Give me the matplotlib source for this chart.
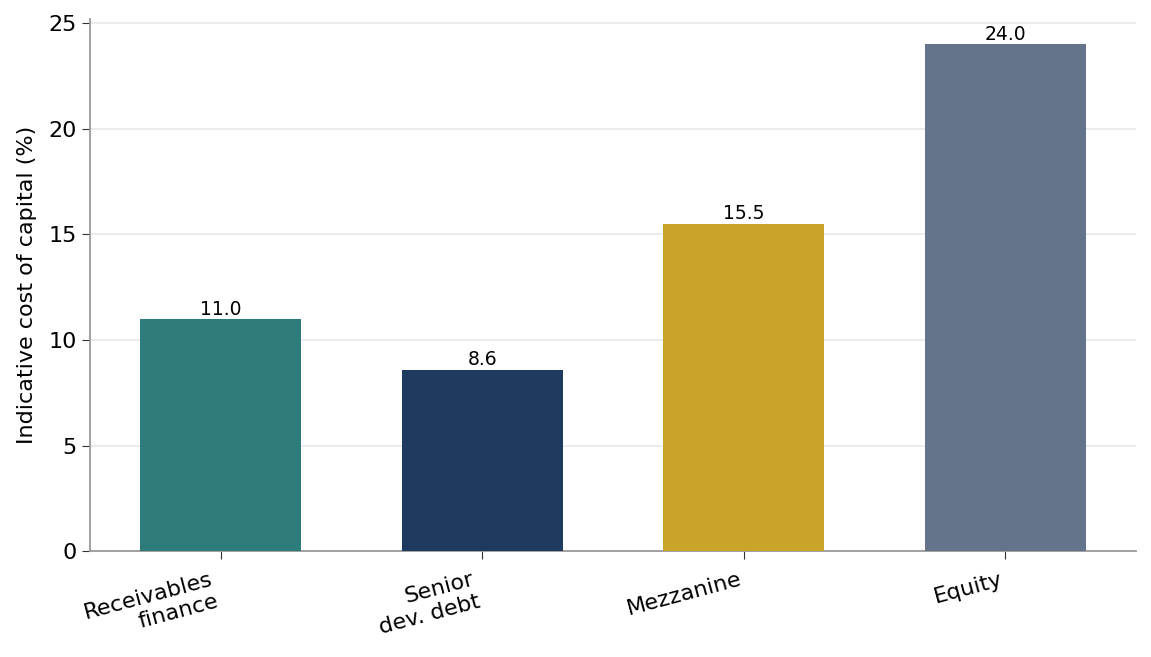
import matplotlib
matplotlib.use("Agg")
import matplotlib.pyplot as plt

categories = ["Receivables\nfinance", "Senior\ndev. debt", "Mezzanine", "Equity"]
cost_pct = [11.0, 8.6, 15.5, 24.0]
colors = ["#2E7B7B", "#1F3A5F", "#C9A32A", "#64748B"]

fig, ax = plt.subplots(figsize=(11.51, 6.57), dpi=100)
fig.subplots_adjust(left=0.078, right=0.987, top=0.971, bottom=0.161)

x = list(range(len(categories)))
bars = ax.bar(x, cost_pct, width=0.615, color=colors, zorder=3)
for b, v in zip(bars, cost_pct):
    ax.text(b.get_x() + b.get_width() / 2, v + 0.02, f"{v:.1f}",
            ha="center", va="bottom", fontsize=13.5)

ax.set_xlim(-0.5, 3.5)
ax.set_ylim(0, 25.2)
ax.set_xticks(x)
ax.set_xticklabels(categories, rotation=15, ha="right", fontsize=16)
ax.tick_params(axis="x", pad=7)
ax.tick_params(axis="y", labelsize=16)
ax.tick_params(axis="both", color="#333333", length=6)
ax.set_ylabel("Indicative cost of capital (%)", fontsize=16, labelpad=8)

ax.grid(axis="y", color="#e5e7eb", linewidth=1.2, zorder=0)
ax.set_axisbelow(True)
for s in ("top", "right"):
    ax.spines[s].set_visible(False)
for s in ("left", "bottom"):
    ax.spines[s].set_color("#999999")
    ax.spines[s].set_linewidth(1.3)

fig.savefig("out.png", dpi=100)
